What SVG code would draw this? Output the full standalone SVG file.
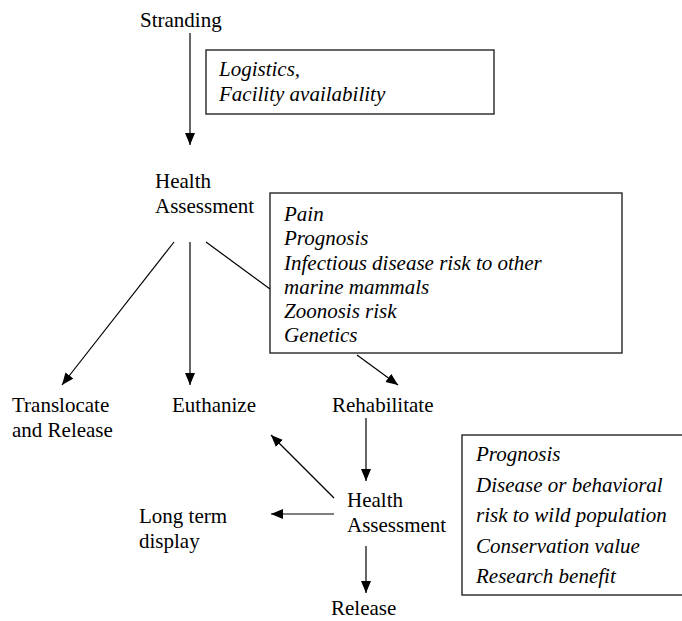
<svg xmlns="http://www.w3.org/2000/svg" width="682" height="621" viewBox="0 0 682 621">
<style>
  text { font-family: "Liberation Serif", "DejaVu Serif", "Times New Roman", Times, serif; font-size: 21px; fill: #000; }
  .it { font-style: italic; }
  .box { fill: #fff; stroke: #333; stroke-width: 1.5; }
  .conn line { stroke: #000; stroke-width: 1.2; fill: none; }
</style>
<defs>
  <marker id="ah" markerUnits="userSpaceOnUse" markerWidth="13" markerHeight="11" refX="12" refY="5" orient="auto">
    <path d="M0,0 L12,5 L0,10 Z" fill="#000"/>
  </marker>
</defs>
<rect width="682" height="621" fill="#fff"/>

<g font-family="'Liberation Serif', 'DejaVu Serif', serif">
<g id="stranding"><text x="140" y="27">Stranding</text></g>

<g id="box-logistics">
  <rect class="box" x="206" y="50" width="288" height="64"/>
  <text class="it" x="219" y="76">Logistics,</text>
  <text class="it" x="219" y="101">Facility availability</text>
</g>

<g id="health-assessment-1">
  <text x="155" y="188">Health</text>
  <text x="155" y="213">Assessment</text>
</g>

<g id="box-criteria-1">
  <rect class="box" x="270" y="193" width="352" height="160"/>
  <text class="it" x="284" y="221">Pain</text>
  <text class="it" x="284" y="245">Prognosis</text>
  <text class="it" x="284" y="270">Infectious disease risk to other</text>
  <text class="it" x="284" y="294">marine mammals</text>
  <text class="it" x="284" y="318">Zoonosis risk</text>
  <text class="it" x="284" y="342">Genetics</text>
</g>

<g id="translocate">
  <text x="12" y="412">Translocate</text>
  <text x="12" y="437">and Release</text>
</g>
<g id="euthanize"><text x="172" y="412">Euthanize</text></g>
<g id="rehabilitate"><text x="332" y="412">Rehabilitate</text></g>

<g id="health-assessment-2">
  <text x="347" y="507">Health</text>
  <text x="347" y="532">Assessment</text>
</g>

<g id="long-term-display">
  <text x="139" y="523">Long term</text>
  <text x="139" y="548">display</text>
</g>

<g id="release"><text x="331" y="615">Release</text></g>

<g id="box-criteria-2">
  <rect class="box" x="462" y="435" width="230" height="160"/>
  <text class="it" x="476" y="461">Prognosis</text>
  <text class="it" x="476" y="492">Disease or behavioral</text>
  <text class="it" x="476" y="522">risk to wild population</text>
  <text class="it" x="476" y="553">Conservation value</text>
  <text class="it" x="476" y="583">Research benefit</text>
</g>
</g>

<g id="connectors" class="conn">
  <line x1="190" y1="33" x2="190" y2="145" marker-end="url(#ah)"/>
  <line x1="174" y1="242" x2="62" y2="385" marker-end="url(#ah)"/>
  <line x1="190" y1="242" x2="190" y2="385" marker-end="url(#ah)"/>
  <line x1="206" y1="242" x2="270" y2="289"/>
  <line x1="357" y1="355" x2="398" y2="385" marker-end="url(#ah)"/>
  <line x1="366" y1="418" x2="366" y2="481" marker-end="url(#ah)"/>
  <line x1="334" y1="498" x2="271" y2="435" marker-end="url(#ah)"/>
  <line x1="334" y1="514" x2="271" y2="514" marker-end="url(#ah)"/>
  <line x1="366" y1="546" x2="366" y2="593" marker-end="url(#ah)"/>
</g>
</svg>
